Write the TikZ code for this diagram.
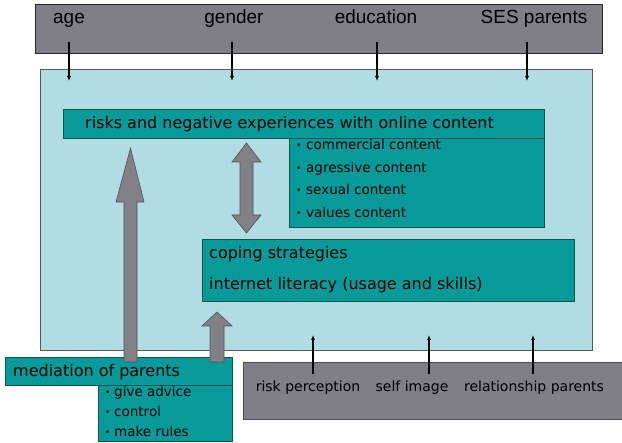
\documentclass[tikz,border=0pt]{standalone}
\usepackage{fontspec}
\setmainfont{DejaVu Sans}
\newfontfamily\arialf{Liberation Sans}
\usetikzlibrary{arrows.meta}
\definecolor{topgray}{RGB}{128,128,132}
\definecolor{lightbl}{RGB}{176,220,226}
\definecolor{tealbox}{RGB}{8,154,152}
\definecolor{tealedge}{RGB}{20,80,80}
\definecolor{arrgray}{RGB}{128,128,134}
\definecolor{arredge}{RGB}{80,80,86}
\newcommand{\bul}[1]{\makebox[#1][l]{\fontsize{9}{9}\selectfont\raisebox{1pt}{•}}}
\begin{document}
\begin{tikzpicture}[x=1pt,y=-1pt,
  graybox/.style={fill=topgray,draw=black!85,line width=1pt},
  tealrect/.style={fill=tealbox,draw=tealedge,line width=0.8pt},
  toplabel/.style={font=\arialf\fontsize{19}{22}\selectfont,inner sep=0pt,anchor=base},
  bigtxt/.style={font=\fontsize{16}{19}\selectfont,inner sep=0pt,anchor=base west},
  smalltxt/.style={font=\fontsize{13.5}{16}\selectfont,inner sep=0pt,anchor=base west},
  bottxt/.style={font=\fontsize{14}{16}\selectfont,inner sep=0pt,anchor=base},
  thin/.style={-{Latex[length=5pt,width=4pt]},line width=1.3pt,black},
  blockarrow/.style={fill=arrgray,draw=arredge,line width=0.6pt}]
\useasboundingbox (0,0) rectangle (622,443);
% top gray box
\draw[graybox] (35,5) rectangle (602,54);
\node[toplabel] (age) at (69,24) {age};
\node[toplabel] (gender) at (234,24) {gender};
\node[toplabel] (edu) at (376,24) {education};
\node[toplabel] (ses) at (534,24) {SES parents};
% light blue frame
\draw[fill=lightbl,draw=gray!70!black,line width=0.6pt] (40,69) rectangle (592,350);
\coordinate (age1) at (69,42); \coordinate (age2) at (69,81);
\coordinate (gen1) at (232,42); \coordinate (gen2) at (232,81);
\coordinate (edu1) at (377,42); \coordinate (edu2) at (377,81);
\coordinate (ses1) at (527,42); \coordinate (ses2) at (527,81);
\draw[thin] (age1) -- (age2);
\draw[thin] (gen1) -- (gen2);
\draw[thin] (edu1) -- (edu2);
\draw[thin] (ses1) -- (ses2);
% risks
\draw[tealrect] (63,109) rectangle (544,138);
\node[bigtxt] (risk) at (85,129) {risks and negative experiences with online content};
\draw[tealrect] (289,138) rectangle (544,227);
\node[smalltxt] (b1) at (296,150) {\bul{10pt}commercial content};
\node[smalltxt] (b2) at (296,173) {\bul{10pt}agressive content};
\node[smalltxt] (b3) at (296,195) {\bul{10pt}sexual content};
\node[smalltxt] (b4) at (296,218) {\bul{10pt}values content};
% coping
\draw[tealrect] (202,239) rectangle (574,301);
\node[bigtxt] (cop) at (209,259) {coping strategies};
\node[bigtxt] (lit) at (209,290) {internet literacy (usage and skills)};
% double arrow
\draw[blockarrow] (246.5,143) -- (261,162) -- (253,162) -- (253,215) -- (261,215) -- (246.5,233)
  -- (232,215) -- (240,215) -- (240,162) -- (232,162) -- cycle;
% mediation
\draw[tealrect] (5,357) rectangle (232,385);
\node[bigtxt] (med) at (13,377) {mediation of parents};
\draw[tealrect] (98,385) rectangle (232,441);
\node[smalltxt] (m1) at (105,397) {\bul{9pt}give advice};
\node[smalltxt] (m2) at (105,417) {\bul{9pt}control};
\node[smalltxt] (m3) at (105,437) {\bul{9pt}make rules};
% big up arrow
\draw[blockarrow] (130.5,148) -- (144,202) -- (137,202) -- (137,362) -- (124,362) -- (124,202) -- (116,202) -- cycle;
% small up arrow
\draw[blockarrow] (217,312) -- (232,326) -- (224,326) -- (224,362) -- (210,362) -- (210,326) -- (202,326) -- cycle;
% bottom gray box
\draw[fill=topgray,draw=gray!60!black,line width=0.6pt] (243,362) rectangle (624,419);
\node[bottxt] (rp) at (308,392) {risk perception};
\node[bottxt] (si) at (412,392) {self image};
\node[bottxt] (rel) at (534,392) {relationship parents};
\coordinate (rp1) at (313,374); \coordinate (rp2) at (313,335);
\coordinate (si1) at (429,374); \coordinate (si2) at (429,335);
\coordinate (rl1) at (533,374); \coordinate (rl2) at (533,335);
\draw[thin] (rp1) -- (rp2);
\draw[thin] (si1) -- (si2);
\draw[thin] (rl1) -- (rl2);
\end{tikzpicture}
\end{document}
